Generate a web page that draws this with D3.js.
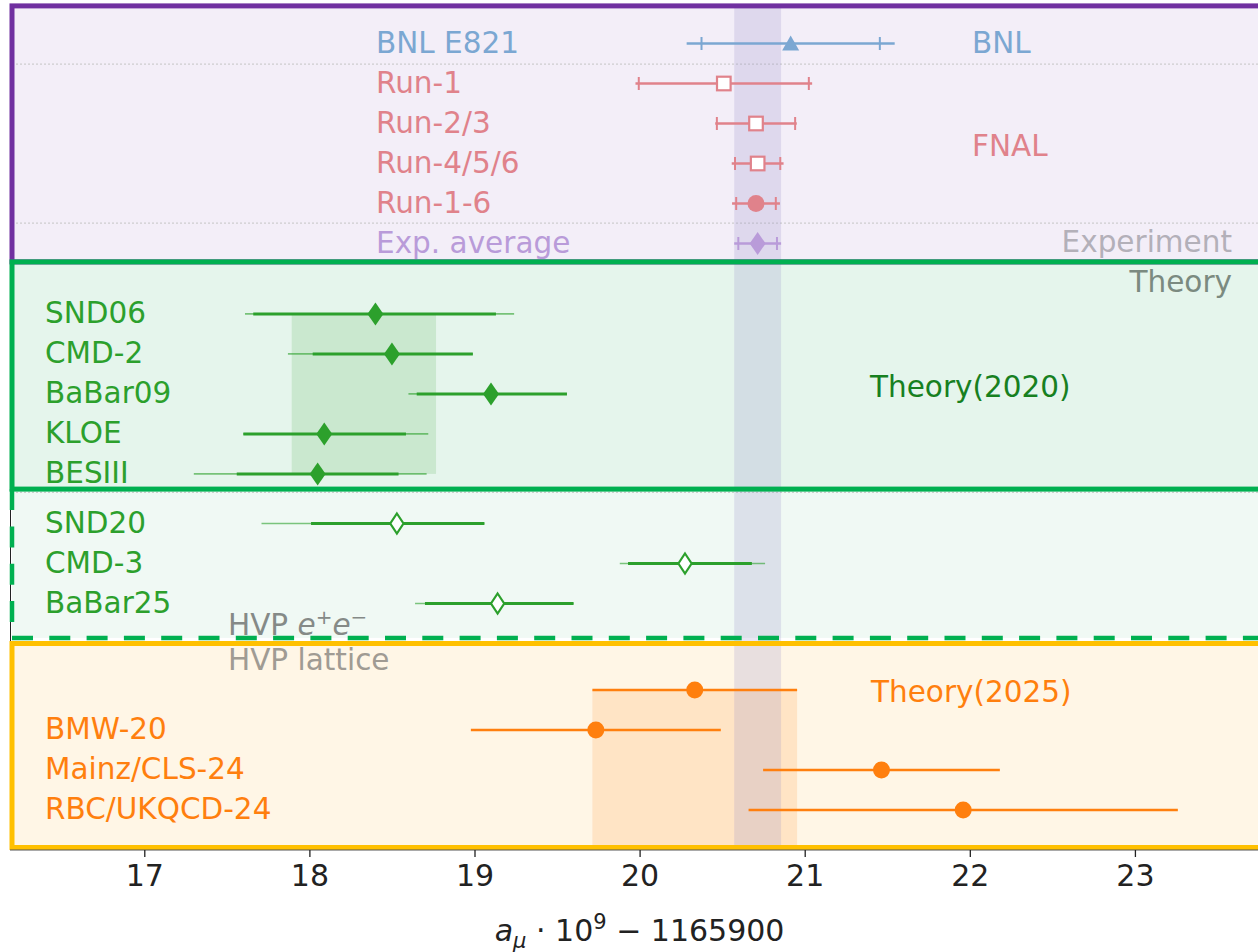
<!DOCTYPE html>
<html><head><meta charset="utf-8">
<script src="https://cdn.jsdelivr.net/npm/d3@7"></script>
<style>
body{margin:0;background:#fff}
svg{display:block}
text{font-family:"DejaVu Sans",sans-serif}
</style>
</head><body>
<svg id="chart" width="1258" height="952"></svg>
<script>
// ---------------- data ----------------
const expLabels   = ["BNL E821","Run-1","Run-2/3","Run-4/5/6","Run-1-6","Exp. average"];
const expValues   = [20.915, 20.51, 20.705, 20.715, 20.705, 20.715];
const expStatErr  = [0.54, 0.515, 0.237, 0.137, 0.12, 0.117];
const expTotErr   = [0.63, 0.535, 0.247, 0.157, 0.145, 0.142];
const expMarkers  = ["triangle","squareOpen","squareOpen","squareOpen","circle","diamond"];
const expGroups   = ["BNL","FNAL","FNAL","FNAL","FNAL","Average"];

const hvp20Labels = ["SND06","CMD-2","BaBar09","KLOE","BESIII"];
const hvp20Values = [18.40, 18.50, 19.10, 18.09, 18.05];
const hvp20StatLo = [17.66, 18.02, 18.65, 17.60, 17.56];
const hvp20StatHi = [19.13, 18.99, 19.56, 18.585, 18.54];
const hvp20TotLo  = [17.61, 17.87, 18.60, 17.60, 17.30];
const hvp20TotHi  = [19.24, 18.99, 19.56, 18.72, 18.71];

const hvpNewLabels = ["SND20","CMD-3","BaBar25"];
const hvpNewValues = [18.53, 20.275, 19.14];
const hvpNewStatLo = [18.01, 19.93, 18.70];
const hvpNewStatHi = [19.06, 20.68, 19.60];
const hvpNewTotLo  = [17.71, 19.88, 18.64];
const hvpNewTotHi  = [19.06, 20.76, 19.60];

const latLabels = ["BMW-20","Mainz/CLS-24","RBC/UKQCD-24"];
const latValues = [19.735, 21.465, 21.96];
const latErr    = [0.757, 0.717, 1.30];

const theory2020Value = 18.33, theory2020Err = 0.437;
const theory2025Value = 20.334, theory2025Err = 0.62;

const xTicks = [17, 18, 19, 20, 21, 22, 23];
const xTitle = {a: "a", sub: "μ", mid: " · 10", sup: "9", tail: " − 1165900"};

(function () {
// ---------------- layout ----------------
const svg = d3.select("#chart");
const x = d3.scaleLinear().domain([16.2, 23.8]).range([12.2, 1267]);
const y = d3.scaleLinear().domain([0, 1]).range([43.5, 83.5]);

const C = {
  purple: "#7030a0", green: "#00b050", orange: "#ffc000",
  bgPurple: "#f3eef8", bgGreen: "#e5f5ec", bgGreen2: "#f0f9f4", bgOrange: "#fff6e6",
  blue: "#7ba7d2", red: "#e0828b", lilac: "#b99bd9",
  tgreen: "#2ca02c", torange: "#ff7f0e"
};

const rowExp = i => i;
const rowH20 = i => 6.76 + i;
const rowNew = i => 12.0 + i;
const row25 = 16.16;
const rowLat = i => 17.16 + i;

const yTop = y(-0.94), split1 = y(5.46), split2 = y(11.14), split3 = y(14.86), orTop = y(15.0), yBot = y(20.1);
const xL = 12, xR = 1300;

// backgrounds
svg.append("rect").attr("x", xL).attr("y", yTop).attr("width", xR - xL).attr("height", split1 - yTop).attr("fill", C.bgPurple);
svg.append("rect").attr("x", xL).attr("y", split1).attr("width", xR - xL).attr("height", split2 - split1).attr("fill", C.bgGreen);
svg.append("rect").attr("x", xL).attr("y", split2).attr("width", xR - xL).attr("height", split3 - split2).attr("fill", C.bgGreen2);
svg.append("rect").attr("x", xL).attr("y", orTop).attr("width", xR - xL).attr("height", yBot - orTop).attr("fill", C.bgOrange);

// axis spine (left)
svg.append("line").attr("x1", 10.5).attr("x2", 10.5).attr("y1", yTop).attr("y2", 850).attr("stroke", "#222").attr("stroke-width", 1);

// dotted separators
[0.515, 4.49, 11.22].forEach(p => {
  svg.append("line").attr("x1", xL).attr("x2", xR).attr("y1", y(p)).attr("y2", y(p))
    .attr("stroke", "#c4c4c4").attr("stroke-width", 1).attr("stroke-dasharray", "2,2");
});

// theory bands
svg.append("rect")
  .attr("x", x(theory2020Value - theory2020Err)).attr("width", x(theory2020Value + theory2020Err) - x(theory2020Value - theory2020Err))
  .attr("y", y(rowH20(0))).attr("height", y(rowH20(4)) - y(rowH20(0)))
  .attr("fill", "rgba(44,160,44,0.15)");
svg.append("rect")
  .attr("x", x(theory2025Value - theory2025Err)).attr("width", x(theory2025Value + theory2025Err) - x(theory2025Value - theory2025Err))
  .attr("y", y(row25)).attr("height", yBot - y(row25))
  .attr("fill", "rgba(255,127,14,0.15)");

// experimental band
const ea = expValues[5], eaErr = expTotErr[5];
svg.append("rect")
  .attr("x", x(ea - eaErr)).attr("width", x(ea + eaErr) - x(ea - eaErr))
  .attr("y", yTop + 2).attr("height", yBot - yTop - 2)
  .attr("fill", "rgba(150,140,200,0.22)");

// borders
svg.append("rect").attr("x", xL).attr("y", yTop).attr("width", xR - xL).attr("height", split1 - yTop)
  .attr("fill", "none").attr("stroke", C.purple).attr("stroke-width", 5);
svg.append("line").attr("x1", xL).attr("x2", xL).attr("y1", split2).attr("y2", split3)
  .attr("stroke", C.green).attr("stroke-width", 4.5).attr("stroke-dasharray", "21,16.3");
svg.append("line").attr("x1", xL).attr("x2", xR).attr("y1", split3).attr("y2", split3)
  .attr("stroke", C.green).attr("stroke-width", 4.5).attr("stroke-dasharray", "21,16.3");
svg.append("rect").attr("x", xL).attr("y", split1).attr("width", xR - xL).attr("height", split2 - split1)
  .attr("fill", "none").attr("stroke", C.green).attr("stroke-width", 5);
svg.append("rect").attr("x", xL).attr("y", orTop).attr("width", xR - xL).attr("height", yBot - orTop)
  .attr("fill", "none").attr("stroke", C.orange).attr("stroke-width", 5);

// x axis
const axisG = svg.append("g").attr("transform", "translate(0,850)");
axisG.append("line").attr("x1", 10).attr("x2", 1258).attr("y1", 0).attr("y2", 0).attr("stroke", "#555").attr("stroke-width", 1.2);
const ax = d3.axisBottom(x).tickValues(xTicks).tickFormat(d3.format("d")).tickSize(7).tickPadding(8);
const gAx = axisG.append("g").call(ax);
gAx.select(".domain").remove();
gAx.selectAll(".tick line").attr("stroke", "#222").attr("stroke-width", 1.3);
gAx.selectAll(".tick text").attr("font-size", 30).attr("fill", "#222").attr("font-family", "DejaVu Sans");

const title = svg.append("text").attr("x", x(20)).attr("y", 941).attr("text-anchor", "middle").attr("font-size", 30).attr("fill", "#222");
title.append("tspan").attr("font-style", "italic").text(xTitle.a);
title.append("tspan").attr("font-style", "italic").attr("font-size", 21).attr("dy", 7).text(xTitle.sub);
title.append("tspan").attr("dy", -7).text(xTitle.mid);
title.append("tspan").attr("font-size", 21).attr("dy", -12).text(xTitle.sup);
title.append("tspan").attr("dy", 12).text(xTitle.tail);

// ---------------- helpers ----------------
function diamondPath(w, h) { return `M0,${-h}L${w},0L0,${h}L${-w},0Z`; }
function hline(x1, x2, yy, color, w, op) {
  svg.append("line").attr("x1", x(x1)).attr("x2", x(x2)).attr("y1", yy).attr("y2", yy)
    .attr("stroke", color).attr("stroke-width", w).attr("stroke-opacity", op == null ? 1 : op);
}
function cap(v, yy, color) {
  svg.append("line").attr("x1", x(v)).attr("x2", x(v)).attr("y1", yy - 6.5).attr("y2", yy + 6.5)
    .attr("stroke", color).attr("stroke-width", 2);
}

// ---------------- experiment ----------------
const expColor = g => g === "BNL" ? C.blue : (g === "FNAL" ? C.red : C.lilac);
expLabels.forEach((lab, i) => {
  const yy = y(rowExp(i)), v = expValues[i], col = expColor(expGroups[i]);
  hline(v - expTotErr[i], v + expTotErr[i], yy, col, 2.3);
  cap(v - expStatErr[i], yy, col); cap(v + expStatErr[i], yy, col);
  const m = expMarkers[i], g = svg.append("g").attr("transform", `translate(${x(v)},${yy})`);
  if (m === "triangle") g.append("path").attr("d", "M0,-8L8.5,7L-8.5,7Z").attr("fill", col);
  else if (m === "squareOpen") g.append("rect").attr("x", -6.8).attr("y", -6.8).attr("width", 13.6).attr("height", 13.6).attr("fill", "#fff").attr("stroke", col).attr("stroke-width", 2.2);
  else if (m === "circle") g.append("circle").attr("r", 8.5).attr("fill", col);
  else g.append("path").attr("d", diamondPath(8, 11.5)).attr("fill", col);
  svg.append("text").attr("x", 376).attr("y", yy + 9.5).attr("font-size", 29.5).attr("fill", col).text(lab);
});

// ---------------- HVP e+e- (2020) ----------------
hvp20Labels.forEach((lab, i) => {
  const yy = y(rowH20(i));
  hline(hvp20TotLo[i], hvp20TotHi[i], yy, C.tgreen, 1.6, 0.6);
  hline(hvp20StatLo[i], hvp20StatHi[i], yy, C.tgreen, 3);
  svg.append("path").attr("transform", `translate(${x(hvp20Values[i])},${yy})`).attr("d", diamondPath(8, 11.5)).attr("fill", C.tgreen);
  svg.append("text").attr("x", 45).attr("y", yy + 9.5).attr("font-size", 29.5).attr("fill", C.tgreen).text(lab);
});

// ---------------- HVP e+e- (new) ----------------
hvpNewLabels.forEach((lab, i) => {
  const yy = y(rowNew(i));
  hline(hvpNewTotLo[i], hvpNewTotHi[i], yy, C.tgreen, 1.6, 0.6);
  hline(hvpNewStatLo[i], hvpNewStatHi[i], yy, C.tgreen, 3);
  svg.append("path").attr("transform", `translate(${x(hvpNewValues[i])},${yy})`).attr("d", diamondPath(6.6, 10)).attr("fill", "#fff").attr("stroke", C.tgreen).attr("stroke-width", 2.2);
  svg.append("text").attr("x", 45).attr("y", yy + 9.5).attr("font-size", 29.5).attr("fill", C.tgreen).text(lab);
});

// ---------------- lattice ----------------
hline(theory2025Value - theory2025Err, theory2025Value + theory2025Err, y(row25), C.torange, 2.5);
svg.append("circle").attr("cx", x(theory2025Value)).attr("cy", y(row25)).attr("r", 8.5).attr("fill", C.torange);
latLabels.forEach((lab, i) => {
  const yy = y(rowLat(i));
  hline(latValues[i] - latErr[i], latValues[i] + latErr[i], yy, C.torange, 2.5);
  svg.append("circle").attr("cx", x(latValues[i])).attr("cy", yy).attr("r", 8.5).attr("fill", C.torange);
  svg.append("text").attr("x", 45).attr("y", yy + 9.5).attr("font-size", 29.5).attr("fill", C.torange).text(lab);
});

// ---------------- annotations ----------------
const ann = (tx, ty, txt, col, anchor) => svg.append("text").attr("x", tx).attr("y", ty).attr("font-size", 29.5)
  .attr("fill", col).attr("text-anchor", anchor || "start").text(txt);
ann(972, 52.5, "BNL", C.blue);
ann(972, 156, "FNAL", C.red);
ann(1232, 252, "Experiment", "#b3b0b9", "end");
ann(1232, 292, "Theory", "#7b8a80", "end");
ann(870, 397, "Theory(2020)", "#17801f");
ann(871, 702, "Theory(2025)", C.torange);
const hv = svg.append("text").attr("x", 228).attr("y", 635).attr("font-size", 29.5).attr("fill", "#858a87");
hv.append("tspan").text("HVP ");
hv.append("tspan").attr("font-style", "italic").text("e");
hv.append("tspan").attr("font-size", 20).attr("dy", -11).text("+");
hv.append("tspan").attr("font-style", "italic").attr("dy", 11).text("e");
hv.append("tspan").attr("font-size", 20).attr("dy", -11).text("−");
ann(228, 670, "HVP lattice", "#a09b93");
})();
</script>
</body></html>
